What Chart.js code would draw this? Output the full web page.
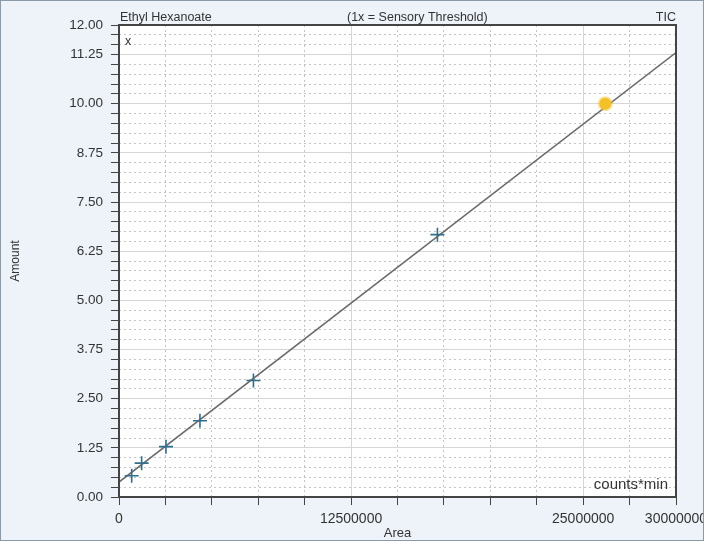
<!DOCTYPE html>
<html>
<head>
<meta charset="utf-8">
<script src="https://cdn.jsdelivr.net/npm/chart.js@4"></script>
<style>
html, body { margin:0; padding:0; background:#edf3f9; overflow:hidden; }
#grafico { display:block; }
</style>
</head>
<body>
<canvas id="grafico" width="704" height="541"></canvas>
<script>
// calibration points (area in counts*min, amount)
var areas   = [684000, 1220000, 2530000, 4360000, 7240000, 17150000];
var amounts = [0.54, 0.86, 1.28, 1.94, 2.96, 6.67];
// highlighted sample
var sampleArea   = [26190000];
var sampleAmount = [10.0];
// fitted calibration line
var fitArea   = [0, 30000000];
var fitAmount = [0.38, 11.30];
// axis ticks
var yLabels = [0, 1.25, 2.5, 3.75, 5, 6.25, 7.5, 8.75, 10, 11.25, 12];
var xLabels = [0, 12500000, 25000000, 30000000];
var yMinor = 0.25;
var xMinor = 2500000;

var FONT = "'Liberation Sans', Arial, sans-serif";

function isIn(v, arr){
    for (var i = 0; i < arr.length; i++) if (Math.abs(arr[i] - v) < 1e-6) return true;
    return false;
}
function stepTicks(max, step){
    var t = [];
    for (var i = 0; i * step <= max + 1e-9; i++) t.push({value: Math.round(i * step * 100) / 100});
    return t;
}
function pairs(xs, ys){
    return xs.map(function(x, i){ return {x: x, y: ys[i]}; });
}

var decor = {
    id: 'decor',
    beforeDraw: function(chart){
        var c = chart.ctx, a = chart.chartArea;
        c.save();
        c.fillStyle = '#edf3f9';
        c.fillRect(0, 0, chart.width, chart.height);
        c.fillStyle = '#ffffff';
        c.fillRect(a.left, a.top, a.right - a.left, a.bottom - a.top);
        c.restore();
    },
    afterDraw: function(chart){
        var c = chart.ctx, a = chart.chartArea;
        c.save();
        c.strokeStyle = '#444';
        c.lineWidth = 2;
        c.strokeRect(a.left, a.top, a.right - a.left, a.bottom - a.top);
        c.fillStyle = '#333';
        c.font = '12.5px ' + FONT;
        c.textBaseline = 'alphabetic';
        c.textAlign = 'left';
        c.fillText('Ethyl Hexanoate', a.left + 1, 21);
        c.fillText('(1x = Sensory Threshold)', 347, 21);
        c.textAlign = 'right';
        c.fillText('TIC', a.right, 21);
        c.textAlign = 'left';
        c.fillText('x', a.left + 6, 45);
        c.font = '15px ' + FONT;
        c.textAlign = 'right';
        c.fillText('counts*min', a.right - 8, 489);
        c.strokeStyle = '#8a9aa8';
        c.lineWidth = 1;
        c.strokeRect(0.5, 0.5, chart.width - 1, chart.height - 1);
        c.restore();
    }
};

var grafico = new Chart(document.getElementById('grafico').getContext('2d'), {
    type: 'scatter',
    data: {
        datasets: [{
            label: 'Sample',
            data: pairs(sampleArea, sampleAmount),
            pointStyle: 'circle',
            pointRadius: 6,
            backgroundColor: '#f3c12a',
            borderColor: 'rgba(243,193,42,0.45)',
            borderWidth: 3,
            order: 1
        },{
            label: 'Calibration',
            data: pairs(areas, amounts),
            pointStyle: 'cross',
            pointRadius: 7,
            borderColor: '#2f6f8c',
            borderWidth: 1.6,
            order: 2
        },{
            label: 'Fit',
            type: 'line',
            data: pairs(fitArea, fitAmount),
            borderColor: '#6a6a6a',
            borderWidth: 1.5,
            pointRadius: 0,
            fill: false,
            order: 3
        }]
    },
    options: {
        responsive: false,
        animation: false,
        layout: { padding: { top: 25, right: 0, bottom: 0, left: 0 } },
        plugins: { legend: { display: false }, tooltip: { enabled: false } },
        scales: {
            x: {
                type: 'linear', position: 'bottom', min: 0, max: 30000000,
                afterBuildTicks: function(s){ s.ticks = stepTicks(30000000, xMinor); },
                afterFit: function(s){ s.height = 44; s.paddingRight = 28; s.paddingLeft = 0; },
                grid: {
                    color: function(ctx){ return ctx.tick && isIn(ctx.tick.value, xLabels) ? 'rgba(0,0,0,0)' : '#c4c4c4'; },
                    tickColor: '#444', tickLength: 8, tickWidth: 1
                },
                border: { display: false, dash: [2, 3] },
                ticks: {
                    autoSkip: false, maxRotation: 0, padding: 6, color: '#333',
                    font: { family: FONT, size: 14 },
                    callback: function(v){ return isIn(v, xLabels) ? String(v) : ''; }
                },
                title: { display: true, text: 'Area', color: '#333', font: { family: FONT, size: 13 }, padding: { top: 0, bottom: 0 } }
            },
            xg: {
                type: 'linear', axis: 'x', position: 'bottom', min: 0, max: 30000000,
                afterBuildTicks: function(s){ s.ticks = xLabels.map(function(v){ return {value: v}; }); },
                grid: { color: '#d6d6d6', drawTicks: false },
                border: { display: false },
                ticks: { display: false }
            },
            y: {
                type: 'linear', position: 'left', min: 0, max: 12,
                afterBuildTicks: function(s){ s.ticks = stepTicks(12, yMinor); },
                afterFit: function(s){ s.width = 119; },
                grid: {
                    color: function(ctx){ return ctx.tick && isIn(ctx.tick.value, yLabels) ? 'rgba(0,0,0,0)' : '#c4c4c4'; },
                    tickColor: '#444', tickLength: 8, tickWidth: 1
                },
                border: { display: false, dash: [2, 3] },
                ticks: {
                    autoSkip: false, padding: 8, color: '#333',
                    font: { family: FONT, size: 13.5 },
                    callback: function(v){ return isIn(v, yLabels) ? v.toFixed(2) : ''; }
                },
                title: { display: true, text: 'Amount', color: '#333', font: { family: FONT, size: 12 }, padding: { top: 8, bottom: 0 } }
            },
            yg: {
                type: 'linear', axis: 'y', position: 'left', min: 0, max: 12,
                afterBuildTicks: function(s){ s.ticks = yLabels.map(function(v){ return {value: v}; }); },
                grid: { color: '#d6d6d6', drawTicks: false },
                border: { display: false },
                ticks: { display: false }
            }
        }
    },
    plugins: [decor]
});
</script>
</body>
</html>
